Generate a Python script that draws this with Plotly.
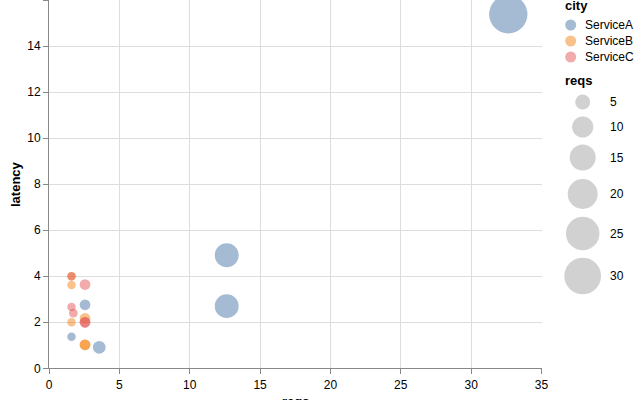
import plotly.graph_objects as go
import math

# ---- data ----
services = ["ServiceA", "ServiceB", "ServiceC"]
colors = ["#4c78a8", "#f58518", "#e45756"]

reqs_a = [1.6, 2.56, 3.57, 12.63, 12.63, 32.64]
latency_a = [1.37, 2.76, 0.91, 4.91, 2.70, 15.38]

reqs_b = [1.6, 1.6, 1.6, 2.56, 2.56, 2.56]
latency_b = [4.0, 3.62, 2.0, 2.17, 1.02, 1.02]

reqs_c = [1.6, 2.56, 1.6, 1.73, 2.56, 2.56]
latency_c = [4.0, 3.64, 2.66, 2.40, 2.0, 2.0]

size_legend_values = [5, 10, 15, 20, 25, 30]
x_ticks = [0, 5, 10, 15, 20, 25, 30, 35]
y_ticks = [0, 2, 4, 6, 8, 10, 12, 14, 16]

# ---- styling / layout constants ----
W, H = 640, 400
FONT = "Liberation Sans, Arial, sans-serif"
AREA_PER_UNIT = 45.0  # px^2 of circle area per req


def diam(v):
    return math.sqrt(AREA_PER_UNIT * v)


x_left, x_right = 49, 541.5
y_bottom, y_top = 368.3, 0

fig = go.Figure()

series = [(reqs_a, latency_a), (reqs_b, latency_b), (reqs_c, latency_c)]
for name, col, (xs, ys) in zip(services, colors, series):
    fig.add_trace(go.Scatter(
        x=xs, y=ys, mode="markers", name=name, showlegend=False,
        marker=dict(color=col, opacity=0.5, size=[diam(v) for v in xs],
                    sizemode="diameter", line=dict(width=0)),
        xaxis="x", yaxis="y",
    ))

# ---- custom legend (in pixel coordinates on an auxiliary axis pair) ----
leg_x0 = 555
city_y = [25, 41, 57]
fig.add_trace(go.Scatter(
    x=[570.7] * len(services), y=city_y, mode="markers", showlegend=False,
    marker=dict(color=colors, opacity=0.5, size=11, line=dict(width=0)),
    xaxis="x2", yaxis="y2", hoverinfo="skip",
))
size_y = [102, 127, 157.5, 194, 233.5, 276]
fig.add_trace(go.Scatter(
    x=[582.7] * len(size_legend_values), y=size_y, mode="markers", showlegend=False,
    marker=dict(color="#bdbdbd", size=[diam(v) for v in size_legend_values],
                sizemode="diameter", line=dict(width=0)),
    xaxis="x2", yaxis="y2", hoverinfo="skip",
))

annotations = []
annotations.append(dict(text="<b>city</b>", x=563, y=5.5, xref="x2", yref="y2",
                        xanchor="left", yanchor="middle", showarrow=False,
                        font=dict(size=13, color="#000", family=FONT)))
for s, yy in zip(services, city_y):
    annotations.append(dict(text=s, x=583, y=yy, xref="x2", yref="y2",
                            xanchor="left", yanchor="middle", showarrow=False,
                            font=dict(size=12, color="#000", family=FONT)))
annotations.append(dict(text="<b>reqs</b>", x=563, y=80, xref="x2", yref="y2",
                        xanchor="left", yanchor="middle", showarrow=False,
                        font=dict(size=13, color="#000", family=FONT)))
for v, yy in zip(size_legend_values, size_y):
    annotations.append(dict(text=str(v), x=607.5, y=yy, xref="x2", yref="y2",
                            xanchor="left", yanchor="middle", showarrow=False,
                            font=dict(size=12, color="#000", family=FONT)))

# axis titles
annotations.append(dict(text="<b>latency</b>", x=15 / W, y=(H - 184) / H,
                        xref="paper", yref="paper", textangle=-90,
                        xanchor="center", yanchor="middle", showarrow=False,
                        font=dict(size=13, color="#000", family=FONT)))
annotations.append(dict(text="<b>reqs</b>", x=(x_left + x_right) / 2 / W, y=(H - 392) / H,
                        xref="paper", yref="paper",
                        xanchor="center", yanchor="top", showarrow=False,
                        font=dict(size=13, color="#000", family=FONT)))

axis_common = dict(
    showgrid=True, gridcolor="#dddddd", gridwidth=1,
    showline=True, linecolor="#888888", linewidth=1,
    ticks="outside", ticklen=5, tickcolor="#888888", tickwidth=1,
    zeroline=False, tickfont=dict(size=12, color="#000", family=FONT),
)

fig.update_layout(
    width=W, height=H,
    margin=dict(l=0, r=0, t=0, b=0, autoexpand=False),
    paper_bgcolor="white", plot_bgcolor="rgba(0,0,0,0)",
    showlegend=False,
    xaxis=dict(domain=[x_left / W, x_right / W], range=[0, 35],
               tickvals=x_ticks, anchor="y", **axis_common),
    yaxis=dict(domain=[(H - y_bottom) / H, 1.0], range=[0, 16],
               tickvals=y_ticks, anchor="x", **axis_common),
    xaxis2=dict(domain=[leg_x0 / W, 1.0], range=[leg_x0, W], visible=False,
                anchor="y2", fixedrange=True),
    yaxis2=dict(domain=[0, 1], range=[H, 0], visible=False,
                anchor="x2", fixedrange=True),
    annotations=annotations,
    font=dict(family=FONT),
)

fig.write_html("out.html",
               config={"displayModeBar": False},
               post_script="document.body.style.margin='0px';document.body.style.padding='0px';")
